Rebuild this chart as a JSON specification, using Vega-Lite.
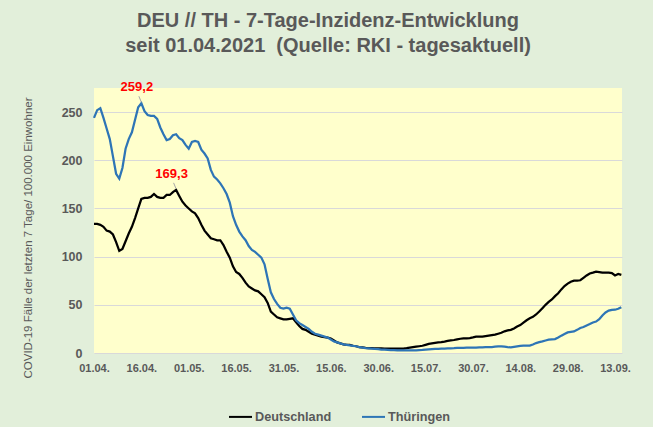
{
  "$schema": "https://vega.github.io/schema/vega-lite/v6.json",
  "width": 528,
  "height": 265,
  "autosize": {"type": "none"},
  "padding": {"left": 94, "top": 88, "right": 31, "bottom": 74},
  "background": "#E2EFDA",
  "config": {"font": "Liberation Sans", "view": {"fill": "#FFFFCC", "stroke": null}},
  "title": {
    "text": ["DEU // TH - 7-Tage-Inzidenz-Entwicklung", "seit 01.04.2021\u00a0 (Quelle: RKI - tagesaktuell)"],
    "anchor": "middle", "dx": -30, "offset": 25, "fontSize": 20, "fontWeight": "bold",
    "color": "#595959", "lineHeight": 25, "font": "Liberation Sans"
  },
  "datasets": {
    "series": [
      {"d":"2021-04-01","Deutschland":134,"Thüringen":244},
      {"d":"2021-04-02","Deutschland":134,"Thüringen":252},
      {"d":"2021-04-03","Deutschland":133,"Thüringen":254},
      {"d":"2021-04-04","Deutschland":131,"Thüringen":244},
      {"d":"2021-04-05","Deutschland":127,"Thüringen":233},
      {"d":"2021-04-06","Deutschland":126,"Thüringen":222},
      {"d":"2021-04-07","Deutschland":123,"Thüringen":204},
      {"d":"2021-04-08","Deutschland":115,"Thüringen":186},
      {"d":"2021-04-09","Deutschland":106,"Thüringen":181},
      {"d":"2021-04-10","Deutschland":108,"Thüringen":192},
      {"d":"2021-04-11","Deutschland":116,"Thüringen":212},
      {"d":"2021-04-12","Deutschland":124,"Thüringen":222},
      {"d":"2021-04-13","Deutschland":131,"Thüringen":229},
      {"d":"2021-04-14","Deutschland":140,"Thüringen":242},
      {"d":"2021-04-15","Deutschland":150,"Thüringen":255},
      {"d":"2021-04-16","Deutschland":160,"Thüringen":259.2},
      {"d":"2021-04-17","Deutschland":161,"Thüringen":251},
      {"d":"2021-04-18","Deutschland":161,"Thüringen":247},
      {"d":"2021-04-19","Deutschland":162,"Thüringen":246},
      {"d":"2021-04-20","Deutschland":165,"Thüringen":246},
      {"d":"2021-04-21","Deutschland":162,"Thüringen":243},
      {"d":"2021-04-22","Deutschland":161,"Thüringen":234},
      {"d":"2021-04-23","Deutschland":161,"Thüringen":227},
      {"d":"2021-04-24","Deutschland":164,"Thüringen":221},
      {"d":"2021-04-25","Deutschland":164,"Thüringen":222},
      {"d":"2021-04-26","Deutschland":167,"Thüringen":226},
      {"d":"2021-04-27","Deutschland":169.3,"Thüringen":227},
      {"d":"2021-04-28","Deutschland":163,"Thüringen":223},
      {"d":"2021-04-29","Deutschland":157,"Thüringen":221},
      {"d":"2021-04-30","Deutschland":153,"Thüringen":216},
      {"d":"2021-05-01","Deutschland":150,"Thüringen":212},
      {"d":"2021-05-02","Deutschland":147,"Thüringen":219},
      {"d":"2021-05-03","Deutschland":145,"Thüringen":220},
      {"d":"2021-05-04","Deutschland":140,"Thüringen":219},
      {"d":"2021-05-05","Deutschland":133,"Thüringen":211},
      {"d":"2021-05-06","Deutschland":127,"Thüringen":207},
      {"d":"2021-05-07","Deutschland":123,"Thüringen":202},
      {"d":"2021-05-08","Deutschland":119,"Thüringen":190},
      {"d":"2021-05-09","Deutschland":118,"Thüringen":183},
      {"d":"2021-05-10","Deutschland":117,"Thüringen":180},
      {"d":"2021-05-11","Deutschland":117,"Thüringen":176},
      {"d":"2021-05-12","Deutschland":112,"Thüringen":171},
      {"d":"2021-05-13","Deutschland":105,"Thüringen":165},
      {"d":"2021-05-14","Deutschland":99,"Thüringen":156},
      {"d":"2021-05-15","Deutschland":90,"Thüringen":142},
      {"d":"2021-05-16","Deutschland":84,"Thüringen":133},
      {"d":"2021-05-17","Deutschland":82,"Thüringen":126},
      {"d":"2021-05-18","Deutschland":78,"Thüringen":121},
      {"d":"2021-05-19","Deutschland":73,"Thüringen":117},
      {"d":"2021-05-20","Deutschland":69,"Thüringen":111},
      {"d":"2021-05-21","Deutschland":67,"Thüringen":107},
      {"d":"2021-05-22","Deutschland":65,"Thüringen":105},
      {"d":"2021-05-23","Deutschland":64,"Thüringen":102},
      {"d":"2021-05-24","Deutschland":61,"Thüringen":99},
      {"d":"2021-05-25","Deutschland":58,"Thüringen":92},
      {"d":"2021-05-26","Deutschland":52,"Thüringen":77},
      {"d":"2021-05-27","Deutschland":43,"Thüringen":63},
      {"d":"2021-05-28","Deutschland":40,"Thüringen":56},
      {"d":"2021-05-29","Deutschland":37,"Thüringen":51},
      {"d":"2021-05-30","Deutschland":36,"Thüringen":47},
      {"d":"2021-05-31","Deutschland":35,"Thüringen":46},
      {"d":"2021-06-01","Deutschland":35,"Thüringen":47},
      {"d":"2021-06-02","Deutschland":35.5,"Thüringen":46},
      {"d":"2021-06-03","Deutschland":36,"Thüringen":40},
      {"d":"2021-06-04","Deutschland":32,"Thüringen":34},
      {"d":"2021-06-05","Deutschland":28,"Thüringen":31},
      {"d":"2021-06-06","Deutschland":25,"Thüringen":29},
      {"d":"2021-06-07","Deutschland":24,"Thüringen":27},
      {"d":"2021-06-08","Deutschland":22,"Thüringen":25},
      {"d":"2021-06-09","Deutschland":20,"Thüringen":22},
      {"d":"2021-06-10","Deutschland":19,"Thüringen":20},
      {"d":"2021-06-11","Deutschland":18,"Thüringen":19},
      {"d":"2021-06-12","Deutschland":17,"Thüringen":18},
      {"d":"2021-06-13","Deutschland":16.5,"Thüringen":17},
      {"d":"2021-06-14","Deutschland":16,"Thüringen":16},
      {"d":"2021-06-15","Deutschland":15,"Thüringen":14},
      {"d":"2021-06-16","Deutschland":13,"Thüringen":12},
      {"d":"2021-06-17","Deutschland":11,"Thüringen":11},
      {"d":"2021-06-18","Deutschland":10,"Thüringen":10},
      {"d":"2021-06-19","Deutschland":9,"Thüringen":9},
      {"d":"2021-06-20","Deutschland":8.5,"Thüringen":8.5},
      {"d":"2021-06-21","Deutschland":8.5,"Thüringen":8},
      {"d":"2021-06-22","Deutschland":7.5,"Thüringen":7.5},
      {"d":"2021-06-23","Deutschland":7,"Thüringen":7},
      {"d":"2021-06-24","Deutschland":6.2,"Thüringen":6},
      {"d":"2021-06-25","Deutschland":5.8,"Thüringen":5.5},
      {"d":"2021-06-26","Deutschland":5.4,"Thüringen":5},
      {"d":"2021-06-27","Deutschland":5.1,"Thüringen":4.8},
      {"d":"2021-06-28","Deutschland":5,"Thüringen":4.5},
      {"d":"2021-06-29","Deutschland":4.9,"Thüringen":4.2},
      {"d":"2021-06-30","Deutschland":4.8,"Thüringen":4},
      {"d":"2021-07-01","Deutschland":4.7,"Thüringen":3.6},
      {"d":"2021-07-02","Deutschland":4.6,"Thüringen":3.4},
      {"d":"2021-07-03","Deutschland":4.6,"Thüringen":3.2},
      {"d":"2021-07-04","Deutschland":4.5,"Thüringen":3},
      {"d":"2021-07-05","Deutschland":4.5,"Thüringen":2.9},
      {"d":"2021-07-06","Deutschland":4.5,"Thüringen":2.8},
      {"d":"2021-07-07","Deutschland":4.5,"Thüringen":2.8},
      {"d":"2021-07-08","Deutschland":4.6,"Thüringen":2.8},
      {"d":"2021-07-09","Deutschland":5,"Thüringen":2.7},
      {"d":"2021-07-10","Deutschland":5.5,"Thüringen":2.8},
      {"d":"2021-07-11","Deutschland":6,"Thüringen":2.8},
      {"d":"2021-07-12","Deutschland":6.5,"Thüringen":2.8},
      {"d":"2021-07-13","Deutschland":7,"Thüringen":3},
      {"d":"2021-07-14","Deutschland":7.5,"Thüringen":3.2},
      {"d":"2021-07-15","Deutschland":8.5,"Thüringen":3.5},
      {"d":"2021-07-16","Deutschland":9.5,"Thüringen":3.8},
      {"d":"2021-07-17","Deutschland":10,"Thüringen":4},
      {"d":"2021-07-18","Deutschland":10.5,"Thüringen":4.2},
      {"d":"2021-07-19","Deutschland":11,"Thüringen":4.3},
      {"d":"2021-07-20","Deutschland":11.2,"Thüringen":4.5},
      {"d":"2021-07-21","Deutschland":11.8,"Thüringen":4.5},
      {"d":"2021-07-22","Deutschland":12.5,"Thüringen":4.7},
      {"d":"2021-07-23","Deutschland":13,"Thüringen":4.9},
      {"d":"2021-07-24","Deutschland":13.5,"Thüringen":5},
      {"d":"2021-07-25","Deutschland":14.2,"Thüringen":5.2},
      {"d":"2021-07-26","Deutschland":14.8,"Thüringen":5.3},
      {"d":"2021-07-27","Deutschland":15.2,"Thüringen":5.4},
      {"d":"2021-07-28","Deutschland":15.3,"Thüringen":5.5},
      {"d":"2021-07-29","Deutschland":15.5,"Thüringen":5.5},
      {"d":"2021-07-30","Deutschland":16.2,"Thüringen":5.5},
      {"d":"2021-07-31","Deutschland":17,"Thüringen":5.6},
      {"d":"2021-08-01","Deutschland":17,"Thüringen":5.9},
      {"d":"2021-08-02","Deutschland":17,"Thüringen":5.9},
      {"d":"2021-08-03","Deutschland":17.5,"Thüringen":6},
      {"d":"2021-08-04","Deutschland":18,"Thüringen":6.1},
      {"d":"2021-08-05","Deutschland":18.5,"Thüringen":6.2},
      {"d":"2021-08-06","Deutschland":19,"Thüringen":6.5},
      {"d":"2021-08-07","Deutschland":20,"Thüringen":6.8},
      {"d":"2021-08-08","Deutschland":21,"Thüringen":6.9},
      {"d":"2021-08-09","Deutschland":22.5,"Thüringen":6.5},
      {"d":"2021-08-10","Deutschland":23.5,"Thüringen":6.1},
      {"d":"2021-08-11","Deutschland":24,"Thüringen":5.9},
      {"d":"2021-08-12","Deutschland":25.5,"Thüringen":6.4},
      {"d":"2021-08-13","Deutschland":27.5,"Thüringen":6.9},
      {"d":"2021-08-14","Deutschland":29,"Thüringen":7.3},
      {"d":"2021-08-15","Deutschland":31.5,"Thüringen":7.6},
      {"d":"2021-08-16","Deutschland":34,"Thüringen":7.6},
      {"d":"2021-08-17","Deutschland":36,"Thüringen":7.6},
      {"d":"2021-08-18","Deutschland":37.5,"Thüringen":8.8},
      {"d":"2021-08-19","Deutschland":40,"Thüringen":10.3},
      {"d":"2021-08-20","Deutschland":43,"Thüringen":11.2},
      {"d":"2021-08-21","Deutschland":46.5,"Thüringen":12},
      {"d":"2021-08-22","Deutschland":50,"Thüringen":13},
      {"d":"2021-08-23","Deutschland":53,"Thüringen":13.8},
      {"d":"2021-08-24","Deutschland":55.5,"Thüringen":14.2},
      {"d":"2021-08-25","Deutschland":59,"Thüringen":14.5},
      {"d":"2021-08-26","Deutschland":62,"Thüringen":16},
      {"d":"2021-08-27","Deutschland":66,"Thüringen":18},
      {"d":"2021-08-28","Deutschland":69.5,"Thüringen":19.8},
      {"d":"2021-08-29","Deutschland":72,"Thüringen":21.4},
      {"d":"2021-08-30","Deutschland":74,"Thüringen":22},
      {"d":"2021-08-31","Deutschland":75,"Thüringen":22.4},
      {"d":"2021-09-01","Deutschland":75,"Thüringen":24},
      {"d":"2021-09-02","Deutschland":75.5,"Thüringen":25.9},
      {"d":"2021-09-03","Deutschland":78,"Thüringen":27},
      {"d":"2021-09-04","Deutschland":80.5,"Thüringen":28.6},
      {"d":"2021-09-05","Deutschland":82.5,"Thüringen":30},
      {"d":"2021-09-06","Deutschland":83.4,"Thüringen":31.7},
      {"d":"2021-09-07","Deutschland":84.5,"Thüringen":32.6},
      {"d":"2021-09-08","Deutschland":84,"Thüringen":35},
      {"d":"2021-09-09","Deutschland":83.4,"Thüringen":39},
      {"d":"2021-09-10","Deutschland":83.4,"Thüringen":42},
      {"d":"2021-09-11","Deutschland":83.5,"Thüringen":44},
      {"d":"2021-09-12","Deutschland":83,"Thüringen":44.8},
      {"d":"2021-09-13","Deutschland":80.5,"Thüringen":44.9},
      {"d":"2021-09-14","Deutschland":82,"Thüringen":45.9},
      {"d":"2021-09-15","Deutschland":81,"Thüringen":47.6}
    ],
    "notes": [
      {"d":"2021-04-16","v":259.2,"label":"259,2"},
      {"d":"2021-04-27","v":169.3,"label":"169,3"}
    ]
  },
  "encoding": {
    "x": {
      "field": "d", "type": "temporal",
      "scale": {"type": "utc", "domain": [
        {"year": 2021, "month": 4, "date": 1, "utc": true},
        {"year": 2021, "month": 9, "date": 15, "hours": 5, "utc": true}
      ]},
      "axis": {
        "title": null,
        "values": [
          {"year": 2021, "month": 4, "date": 1, "utc": true},
          {"year": 2021, "month": 4, "date": 16, "utc": true},
          {"year": 2021, "month": 5, "date": 1, "utc": true},
          {"year": 2021, "month": 5, "date": 16, "utc": true},
          {"year": 2021, "month": 5, "date": 31, "utc": true},
          {"year": 2021, "month": 6, "date": 15, "utc": true},
          {"year": 2021, "month": 6, "date": 30, "utc": true},
          {"year": 2021, "month": 7, "date": 15, "utc": true},
          {"year": 2021, "month": 7, "date": 30, "utc": true},
          {"year": 2021, "month": 8, "date": 14, "utc": true},
          {"year": 2021, "month": 8, "date": 29, "utc": true},
          {"year": 2021, "month": 9, "date": 13, "utc": true}
        ],
        "format": "%d.%m.",
        "labelFontSize": 11, "labelFontWeight": "bold", "labelColor": "#595959",
        "labelPadding": 9, "labelFlush": false, "labelOverlap": false,
        "ticks": false, "domain": false, "grid": false
      }
    }
  },
  "layer": [
    {
      "data": {"name": "series"},
      "transform": [{"fold": ["Deutschland", "Thüringen"], "as": ["Serie", "Wert"]}],
      "mark": {"type": "line", "strokeWidth": 2.25},
      "encoding": {
        "y": {
          "field": "Wert", "type": "quantitative",
          "scale": {"domain": [0, 275], "nice": false},
          "axis": {
            "title": "COVID-19 Fälle der letzten 7 Tage/ 100.000 Einwohner",
            "titleFontSize": 11.5, "titleFontWeight": "normal", "titleColor": "#595959",
            "titleX": -66, "titleY": 149.5, "titleAngle": -90, "titleAlign": "center", "titleBaseline": "middle",
            "values": [0, 50, 100, 150, 200, 250],
            "labelFontSize": 12.5, "labelFontWeight": "bold", "labelColor": "#595959",
            "labelPadding": 12, "ticks": false, "domain": false,
            "gridColor": "#D9D9D9", "gridWidth": 1.2
          }
        },
        "color": {
          "field": "Serie", "type": "nominal",
          "scale": {"domain": ["Deutschland", "Thüringen"], "range": ["#000000", "#2E75B6"]},
          "legend": {
            "orient": "none", "legendX": 134, "legendY": 316, "direction": "horizontal", "title": null,
            "symbolType": "stroke", "symbolSize": 529, "symbolStrokeWidth": 2,
            "labelFontSize": 12.7, "labelFontWeight": "bold", "labelColor": "#595959",
            "labelOffset": 2, "columnPadding": 26
          }
        }
      }
    },
    {
      "data": {"name": "notes"},
      "mark": {"type": "rule", "color": "#A6A6A6", "strokeWidth": 1, "yOffset": -1, "y2Offset": -7, "x2Offset": -2.5},
      "encoding": {
        "x2": {"field": "d"},
        "y": {"field": "v", "type": "quantitative"},
        "y2": {"field": "v"}
      }
    },
    {
      "data": {"name": "notes"},
      "mark": {"type": "text", "color": "#FF0000", "fontSize": 13, "fontWeight": "bold", "dx": -4.5, "dy": -12, "baseline": "alphabetic", "align": "center"},
      "encoding": {
        "y": {"field": "v", "type": "quantitative"},
        "text": {"field": "label"}
      }
    }
  ]
}
